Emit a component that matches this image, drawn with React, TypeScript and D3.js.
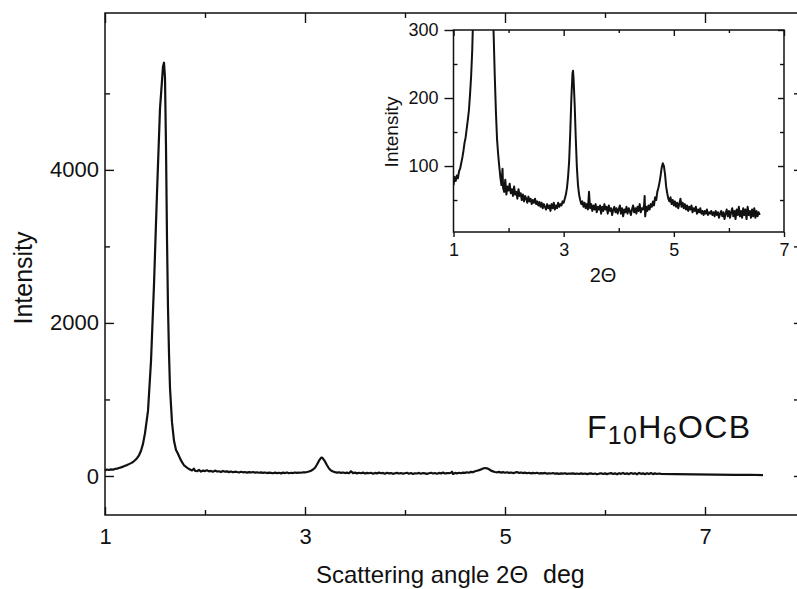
import React, { useEffect, useRef } from 'react';
import * as d3 from 'd3';

// scan: [2θ in deg, intensity]
const scan: [number, number][] = [
  [1.00, 72], [1.02, 84], [1.04, 78], [1.06, 86], [1.08, 82], [1.10, 92], [1.12, 96], [1.14, 104],
  [1.16, 112], [1.18, 122], [1.20, 134], [1.22, 142], [1.24, 155], [1.26, 168], [1.28, 182], [1.30, 205],
  [1.32, 232], [1.34, 270], [1.36, 330], [1.38, 420], [1.40, 560], [1.43, 850], [1.46, 1500], [1.49, 2500],
  [1.52, 3700], [1.55, 4800], [1.58, 5350], [1.59, 5400], [1.60, 5200], [1.61, 4300], [1.62, 3100], [1.63, 2200],
  [1.64, 1600], [1.65, 1150], [1.67, 700], [1.69, 460], [1.71, 340], [1.73, 290], [1.75, 230], [1.77, 180],
  [1.79, 140], [1.81, 118], [1.83, 100], [1.85, 84], [1.87, 72], [1.89, 96], [1.90, 68], [1.92, 62],
  [1.94, 80], [1.96, 58], [1.98, 70], [2.00, 64], [2.02, 74], [2.04, 60], [2.06, 66], [2.08, 56],
  [2.10, 70], [2.12, 58], [2.14, 62], [2.16, 52], [2.18, 66], [2.20, 56], [2.22, 60], [2.24, 50],
  [2.26, 58], [2.28, 48], [2.30, 56], [2.32, 52], [2.34, 46], [2.36, 55], [2.38, 48], [2.40, 52],
  [2.42, 44], [2.44, 50], [2.46, 46], [2.48, 52], [2.50, 44], [2.52, 48], [2.54, 42], [2.56, 47],
  [2.58, 40], [2.60, 46], [2.62, 38], [2.64, 44], [2.66, 40], [2.68, 36], [2.70, 44], [2.72, 38],
  [2.74, 42], [2.76, 34], [2.78, 44], [2.80, 38], [2.82, 46], [2.84, 36], [2.86, 42], [2.88, 38],
  [2.90, 46], [2.92, 40], [2.94, 44], [2.96, 42], [2.98, 48], [3.00, 46], [3.02, 52], [3.04, 58],
  [3.06, 68], [3.08, 84], [3.10, 108], [3.12, 150], [3.14, 200], [3.16, 236], [3.17, 240], [3.18, 228],
  [3.20, 190], [3.22, 140], [3.24, 98], [3.26, 72], [3.28, 58], [3.30, 50], [3.32, 44], [3.34, 48],
  [3.36, 40], [3.38, 46], [3.40, 38], [3.42, 44], [3.44, 36], [3.46, 62], [3.48, 38], [3.50, 44],
  [3.52, 34], [3.54, 42], [3.56, 36], [3.58, 44], [3.60, 32], [3.62, 40], [3.64, 36], [3.66, 42],
  [3.68, 30], [3.70, 40], [3.72, 34], [3.74, 44], [3.76, 36], [3.78, 40], [3.80, 30], [3.82, 42],
  [3.84, 34], [3.86, 38], [3.88, 28], [3.90, 36], [3.92, 40], [3.94, 32], [3.96, 38], [3.98, 30],
  [4.00, 36], [4.02, 42], [4.04, 30], [4.06, 38], [4.08, 26], [4.10, 36], [4.12, 32], [4.14, 40],
  [4.16, 30], [4.18, 38], [4.20, 34], [4.22, 28], [4.24, 36], [4.26, 42], [4.28, 32], [4.30, 38],
  [4.32, 30], [4.34, 40], [4.36, 34], [4.38, 44], [4.40, 32], [4.42, 38], [4.44, 36], [4.46, 42],
  [4.47, 56], [4.48, 26], [4.50, 40], [4.52, 34], [4.54, 42], [4.56, 36], [4.58, 44], [4.60, 40],
  [4.62, 48], [4.64, 42], [4.66, 54], [4.68, 50], [4.70, 62], [4.72, 68], [4.74, 76], [4.76, 86],
  [4.78, 98], [4.80, 104], [4.82, 100], [4.84, 88], [4.86, 70], [4.88, 60], [4.90, 52], [4.92, 48],
  [4.94, 54], [4.96, 44], [4.98, 50], [5.00, 42], [5.02, 48], [5.04, 40], [5.06, 46], [5.08, 38],
  [5.10, 44], [5.12, 52], [5.14, 40], [5.16, 46], [5.18, 38], [5.20, 44], [5.22, 36], [5.24, 42],
  [5.26, 34], [5.28, 40], [5.30, 36], [5.32, 42], [5.34, 32], [5.36, 38], [5.38, 34], [5.40, 40],
  [5.42, 30], [5.44, 36], [5.46, 32], [5.48, 38], [5.50, 30], [5.52, 34], [5.54, 28], [5.56, 34],
  [5.58, 30], [5.60, 36], [5.62, 28], [5.64, 32], [5.66, 30], [5.68, 34], [5.70, 28], [5.72, 32],
  [5.74, 26], [5.76, 34], [5.78, 28], [5.80, 32], [5.82, 24], [5.84, 30], [5.86, 34], [5.88, 26],
  [5.90, 32], [5.92, 22], [5.94, 30], [5.96, 36], [5.98, 26], [6.00, 34], [6.02, 24], [6.04, 32],
  [6.06, 38], [6.08, 26], [6.10, 34], [6.12, 22], [6.14, 36], [6.16, 28], [6.18, 40], [6.20, 26],
  [6.22, 34], [6.24, 24], [6.26, 38], [6.28, 28], [6.30, 36], [6.32, 22], [6.34, 40], [6.36, 28],
  [6.38, 34], [6.40, 24], [6.42, 36], [6.44, 26], [6.46, 38], [6.48, 24], [6.50, 34], [6.52, 26],
  [6.54, 32], [6.56, 28], [6.70, 24], [6.90, 20], [7.10, 18], [7.30, 14], [7.45, 16], [7.58, 12],
];

const insetLastAngle = 6.56;

const mainXMajor = [1, 3, 5, 7];
const mainXMinor = [2, 4, 6];
const mainYMajor = [0, 2000, 4000];
const mainYMinor = [1000, 3000, 5000];

const insetXMajor = [1, 3, 5, 7];
const insetXMinor = [2, 4, 6];
const insetYMajor = [100, 200, 300];
const insetYMinor = [50, 150, 250];

const font = '"Liberation Sans", Arial, Helvetica, sans-serif';
const ink = '#111';

export default function App() {
  const ref = useRef<SVGSVGElement>(null);

  useEffect(() => {
    document.body.style.margin = '0';
    const svg = d3.select(ref.current);
    svg.selectAll('*').remove();

    // draw one set of ticks with d3's axis
    const ticks = (g: any, gen: any, values: number[], size: number, padding: number, fontSize: number, labels: boolean) => {
      g.call(
        gen.tickValues(values).tickSize(size).tickSizeOuter(0).tickPadding(padding)
          .tickFormat(labels ? d3.format('d') : () => '')
      );
      g.select('.domain').remove();
      g.attr('font-family', font).attr('font-size', fontSize).attr('color', ink);
      g.selectAll('line').attr('stroke-width', 1.4);
    };

    //main plot
    const m = { left: 105, right: 799, top: 13, bottom: 515 };
    const x = d3.scaleLinear().domain([1, 7.94]).range([m.left, m.right]);
    const y = d3.scaleLinear().domain([-510, 6050]).range([m.bottom, m.top]);

    const main = svg.append('g');
    main.append('rect')
      .attr('x', m.left).attr('y', m.top)
      .attr('width', m.right - m.left).attr('height', m.bottom - m.top)
      .attr('fill', 'none').attr('stroke', ink).attr('stroke-width', 1.5);

    ticks(main.append('g').attr('transform', `translate(${m.left},0)`), d3.axisLeft(y), mainYMajor, -9, 6, 22, true);
    ticks(main.append('g').attr('transform', `translate(${m.left},0)`), d3.axisLeft(y), mainYMinor, -5, 6, 22, false);
    ticks(main.append('g').attr('transform', `translate(${m.right},0)`), d3.axisRight(y), mainYMajor.concat(mainYMinor), -5, 6, 22, false);
    ticks(main.append('g').attr('transform', `translate(0,${m.bottom})`), d3.axisBottom(x), mainXMajor, -8, 13, 22, true);
    ticks(main.append('g').attr('transform', `translate(0,${m.bottom})`), d3.axisBottom(x), mainXMinor, -5, 13, 22, false);
    ticks(main.append('g').attr('transform', `translate(0,${m.top})`), d3.axisTop(x), mainXMajor, -10, 6, 22, false);
    ticks(main.append('g').attr('transform', `translate(0,${m.top})`), d3.axisTop(x), mainXMinor, -5, 6, 22, false);

    const line = d3.line<[number, number]>()
      .x(d => x(d[0]))
      .y(d => y(d[1]));

    main.append('path')
      .attr('d', line(scan))
      .attr('fill', 'none')
      .attr('stroke', ink)
      .attr('stroke-width', 2.2)
      .attr('stroke-linejoin', 'round');

    main.append('text')
      .attr('transform', 'translate(32,278) rotate(-90)')
      .attr('text-anchor', 'middle')
      .attr('font-family', font).attr('font-size', 25).attr('fill', ink)
      .text('Intensity');

    //axis title, unit set apart like the original
    const title = main.append('text')
      .attr('y', 583)
      .attr('font-family', font).attr('fill', ink);
    title.append('tspan')
      .attr('x', 316).attr('font-size', 24)
      .text('Scattering angle 2\u0398');
    title.append('tspan')
      .attr('x', 543).attr('font-size', 25)
      .text('deg');

    //compound name
    const name = main.append('text')
      .attr('x', 587).attr('y', 438)
      .attr('font-family', font).attr('font-size', 32).attr('fill', ink)
      .attr('textLength', 163).attr('lengthAdjust', 'spacing');
    name.append('tspan').text('F');
    name.append('tspan').attr('font-size', 25).attr('dy', 6).text('10');
    name.append('tspan').attr('dy', -6).text('H');
    name.append('tspan').attr('font-size', 25).attr('dy', 6).text('6');
    name.append('tspan').attr('dy', -6).text('OCB');

    //inset
    const n = { left: 453.5, right: 784, top: 30, bottom: 232 };
    const xi = d3.scaleLinear().domain([1, 7]).range([n.left, n.right]);
    const yi = d3.scaleLinear().domain([3, 300]).range([n.bottom, n.top]);

    const inset = svg.append('g');
    inset.append('rect')
      .attr('x', n.left).attr('y', n.top)
      .attr('width', n.right - n.left).attr('height', n.bottom - n.top)
      .attr('fill', '#fff').attr('stroke', ink).attr('stroke-width', 1.5);

    inset.append('clipPath').attr('id', 'inset-clip')
      .append('rect')
      .attr('x', n.left).attr('y', n.top)
      .attr('width', n.right - n.left).attr('height', n.bottom - n.top);

    const lineInset = d3.line<[number, number]>()
      .x(d => xi(d[0]))
      .y(d => yi(d[1]));

    inset.append('path')
      .attr('clip-path', 'url(#inset-clip)')
      .attr('d', lineInset(scan.filter(d => d[0] <= insetLastAngle)))
      .attr('fill', 'none')
      .attr('stroke', ink)
      .attr('stroke-width', 2)
      .attr('stroke-linejoin', 'round');

    ticks(inset.append('g').attr('transform', `translate(${n.left},0)`), d3.axisLeft(yi), insetYMajor, 9, 6, 18, true);
    ticks(inset.append('g').attr('transform', `translate(${n.left},0)`), d3.axisLeft(yi), insetYMinor, -4, 6, 18, false);
    ticks(inset.append('g').attr('transform', `translate(${n.right},0)`), d3.axisRight(yi), insetYMajor, -6, 6, 18, false);
    ticks(inset.append('g').attr('transform', `translate(${n.right},0)`), d3.axisRight(yi), insetYMinor, -4, 6, 18, false);
    ticks(inset.append('g').attr('transform', `translate(0,${n.bottom})`), d3.axisBottom(xi), insetXMajor, 5, 6, 18, true);
    ticks(inset.append('g').attr('transform', `translate(0,${n.bottom})`), d3.axisBottom(xi), insetXMinor, -4, 6, 18, false);
    ticks(inset.append('g').attr('transform', `translate(0,${n.top})`), d3.axisTop(xi), insetXMajor, -6, 6, 18, false);
    ticks(inset.append('g').attr('transform', `translate(0,${n.top})`), d3.axisTop(xi), insetXMinor, -3, 6, 18, false);

    inset.append('text')
      .attr('transform', `translate(398,132) rotate(-90)`)
      .attr('text-anchor', 'middle')
      .attr('font-family', font).attr('font-size', 19).attr('fill', ink)
      .text('Intensity');

    inset.append('text')
      .attr('x', 603).attr('y', 282)
      .attr('text-anchor', 'middle')
      .attr('font-family', font).attr('font-size', 20).attr('fill', ink)
      .text('2\u0398');
  }, []);

  return <svg ref={ref} width={797} height={589} style={{ display: 'block', background: '#fff' }} />;
}
